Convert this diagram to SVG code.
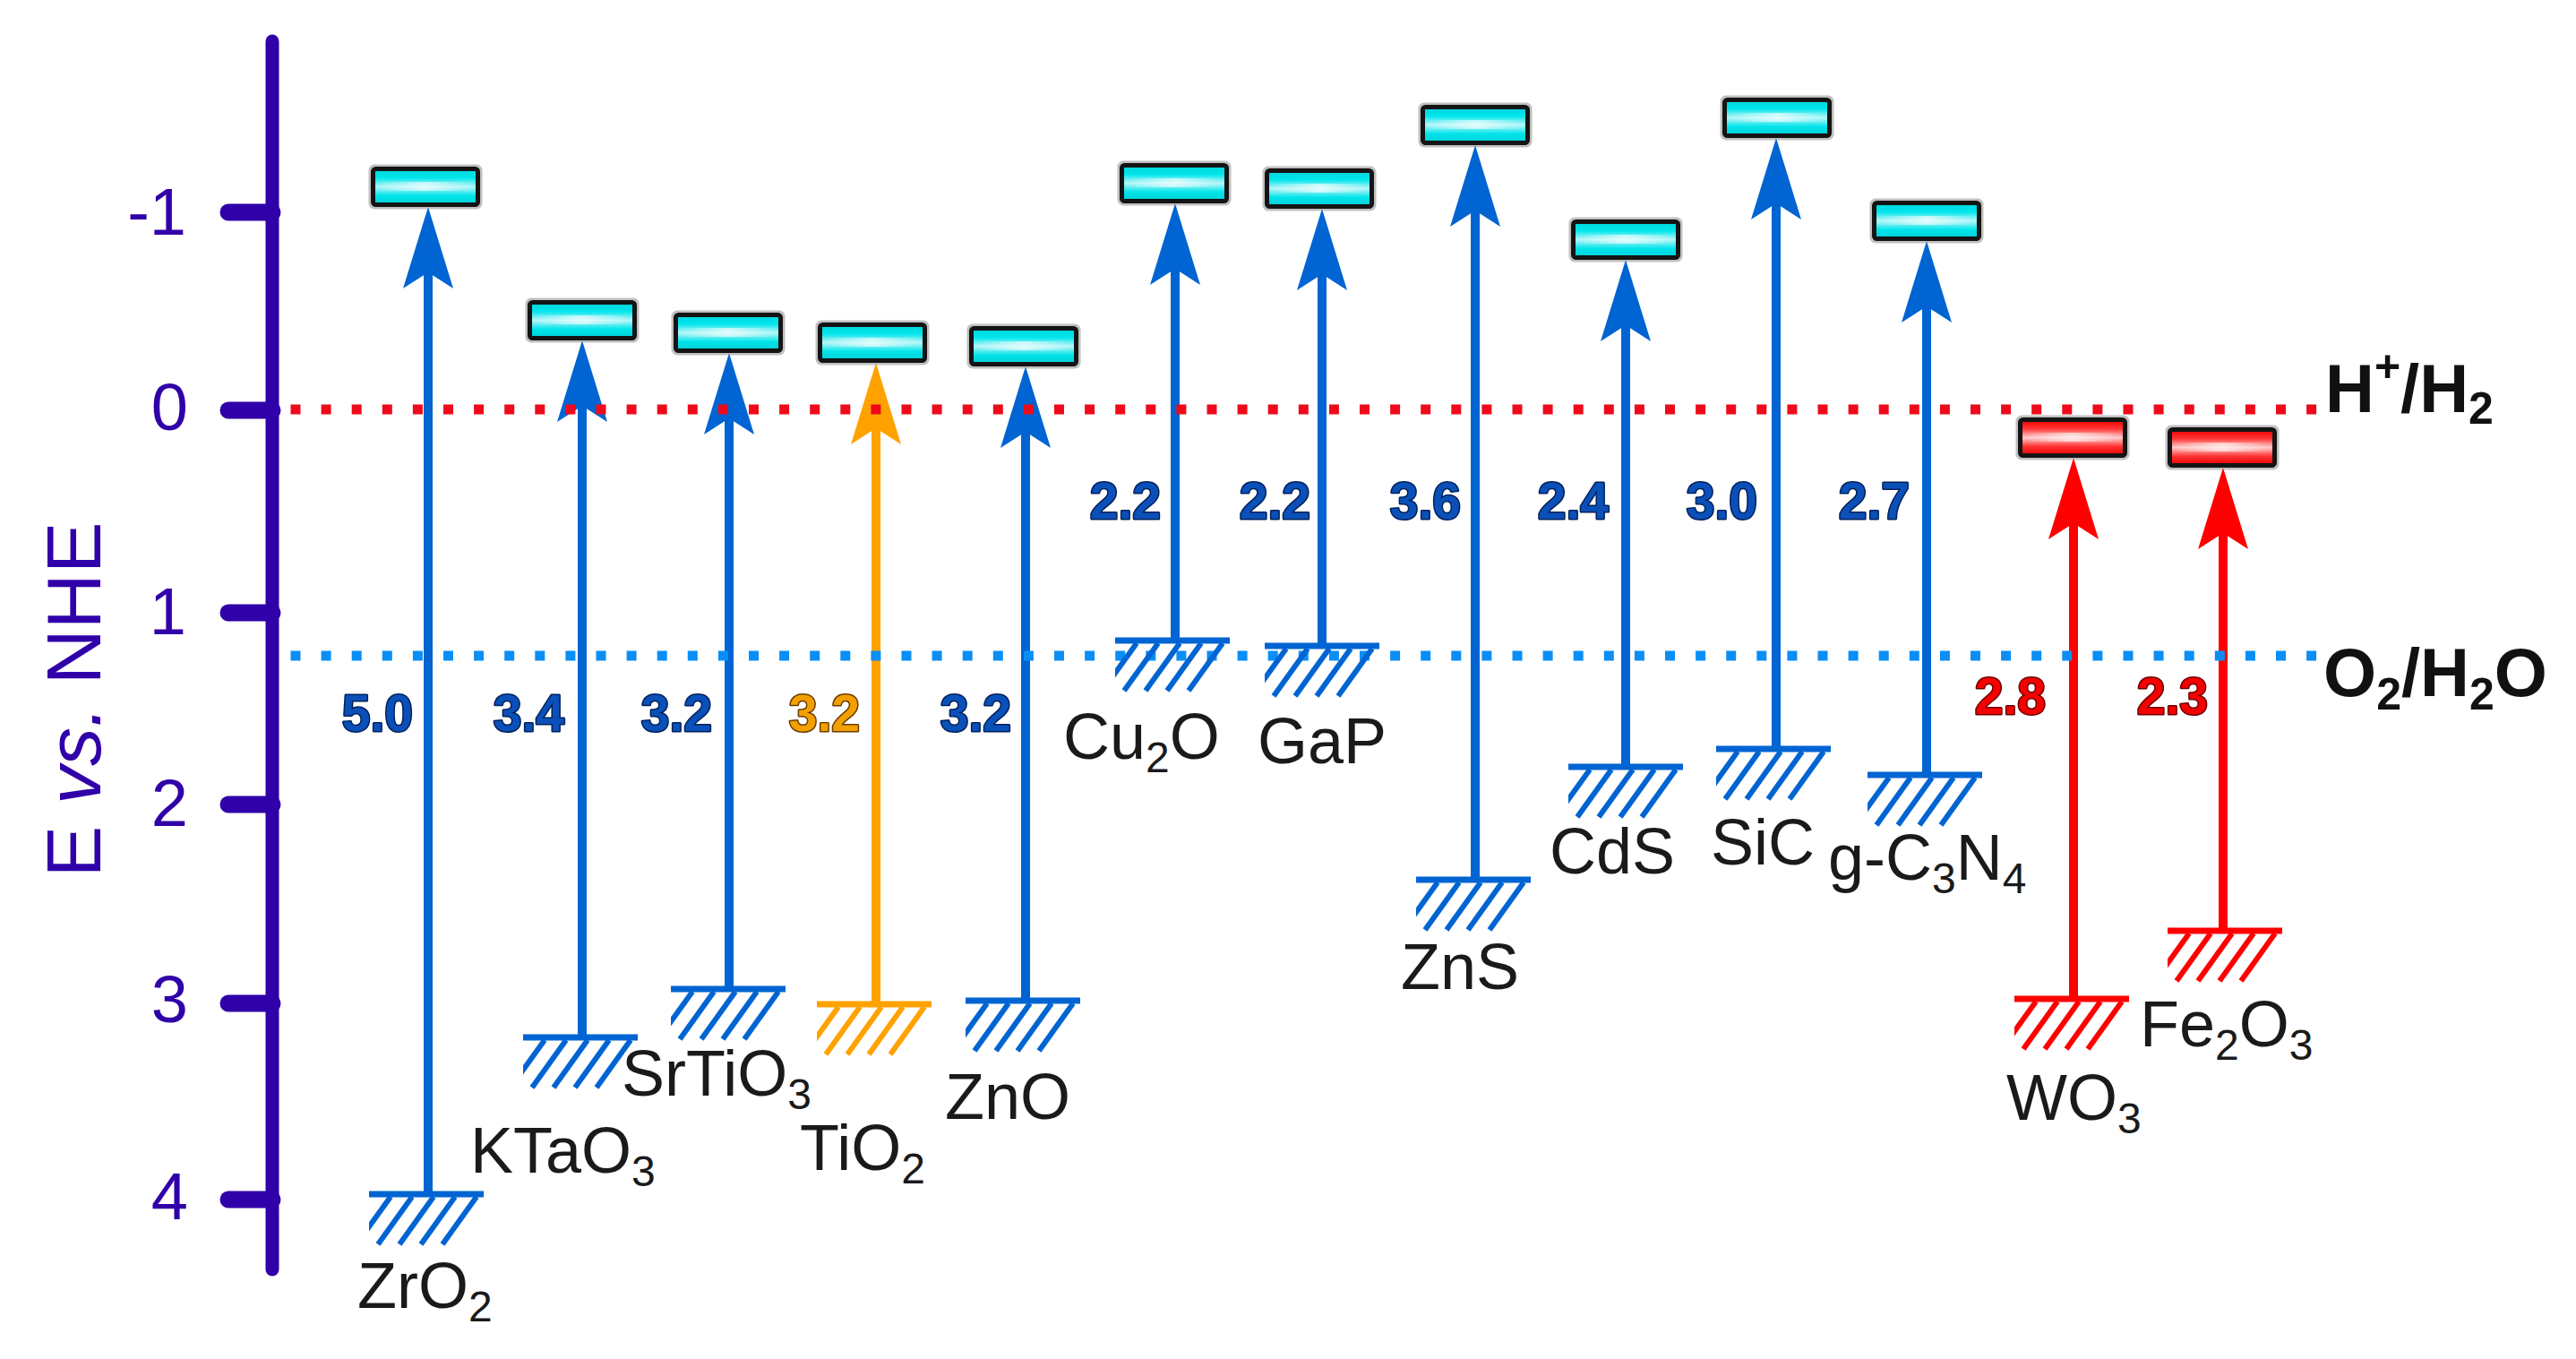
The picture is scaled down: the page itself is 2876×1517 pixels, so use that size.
<svg xmlns="http://www.w3.org/2000/svg" width="2876" height="1517" viewBox="0 0 2876 1517">
<defs>
<style>
text { font-family: "Liberation Sans", Arial, sans-serif; }
.ax { fill: #3000a8; font-size: 74px; text-anchor: end; }
.title { fill: #3000a8; font-size: 86px; text-anchor: middle; }
.mat { fill: #1a1a1a; font-size: 72px; }
.gap { font-size: 57px; font-weight: bold; text-anchor: end; stroke-width: 3; paint-order: stroke; stroke-linejoin: round; }
.gb { fill: #0a50b8; stroke: #00205a; }
.go { fill: #f2a000; stroke: #6a3c00; }
.gr { fill: #f40000; stroke: #6e0000; }
.ref { font-size: 76px; font-weight: bold; fill: #111; }
.arB { stroke: #0064d2; stroke-width: 10; marker-end: url(#ahB); }
.arO { stroke: #ffa200; stroke-width: 10; marker-end: url(#ahO); }
.arR { stroke: #ff0000; stroke-width: 10; marker-end: url(#ahR); }
.dotR { stroke: #ee0a1a; stroke-width: 11; stroke-dasharray: 11 23.1; }
.dotB { stroke: #0a8ef5; stroke-width: 11; stroke-dasharray: 11 23.1; }
</style>
<linearGradient id="cyanG" x1="0" y1="0" x2="0" y2="1">
<stop offset="0" stop-color="#00d2da"/>
<stop offset="0.25" stop-color="#00e6ec"/>
<stop offset="0.5" stop-color="#b4f6f8"/>
<stop offset="0.75" stop-color="#00e4ea"/>
<stop offset="1" stop-color="#00cdd6"/>
</linearGradient>
<linearGradient id="redG" x1="0" y1="0" x2="0" y2="1">
<stop offset="0" stop-color="#ee0000"/>
<stop offset="0.25" stop-color="#ff3434"/>
<stop offset="0.5" stop-color="#ffcaca"/>
<stop offset="0.75" stop-color="#ff3030"/>
<stop offset="1" stop-color="#e80000"/>
</linearGradient>
<linearGradient id="hl" x1="0" y1="0" x2="1" y2="0">
<stop offset="0" stop-color="#fff" stop-opacity="0"/>
<stop offset="0.5" stop-color="#fff" stop-opacity="0.65"/>
<stop offset="1" stop-color="#fff" stop-opacity="0"/>
</linearGradient>
<marker id="ahB" markerUnits="userSpaceOnUse" orient="auto" overflow="visible" markerWidth="1" markerHeight="1" refX="0" refY="0">
<path d="M73,0 L-18,-28 L0,0 L-18,28 Z" fill="#0064d2"/>
</marker>
<marker id="ahO" markerUnits="userSpaceOnUse" orient="auto" overflow="visible" markerWidth="1" markerHeight="1" refX="0" refY="0">
<path d="M73,0 L-18,-28 L0,0 L-18,28 Z" fill="#ffa200"/>
</marker>
<marker id="ahR" markerUnits="userSpaceOnUse" orient="auto" overflow="visible" markerWidth="1" markerHeight="1" refX="0" refY="0">
<path d="M73,0 L-18,-28 L0,0 L-18,28 Z" fill="#ff0000"/>
</marker>
<g id="boxC">
<rect x="-62" y="-1" width="124" height="47" rx="5" fill="none" stroke="#8c8c8c" stroke-opacity="0.55" stroke-width="3"/>
<rect x="-58.5" y="2.5" width="117" height="40" rx="3" fill="url(#cyanG)" stroke="#141414" stroke-width="5"/>
<rect x="-54" y="17" width="108" height="10" fill="url(#hl)"/>
</g>
<g id="boxR">
<rect x="-62" y="-1" width="124" height="47" rx="5" fill="none" stroke="#8c8c8c" stroke-opacity="0.55" stroke-width="3"/>
<rect x="-58.5" y="2.5" width="117" height="40" rx="3" fill="url(#redG)" stroke="#141414" stroke-width="5"/>
<rect x="-54" y="17" width="108" height="10" fill="url(#hl)"/>
</g>
<clipPath id="hclip"><rect x="-64" y="0" width="128" height="60"/></clipPath>
<g id="hatch" stroke="currentColor" fill="none">
<line x1="-64" y1="0" x2="64" y2="0" stroke-width="7"/>
<g clip-path="url(#hclip)" stroke-width="6">
<line x1="-40" y1="3" x2="-78" y2="56"/>
<line x1="-16" y1="3" x2="-54" y2="56"/>
<line x1="8" y1="3" x2="-30" y2="56"/>
<line x1="32" y1="3" x2="-6" y2="56"/>
<line x1="56" y1="3" x2="18" y2="56"/>
</g>
</g>
</defs>

<rect width="2876" height="1517" fill="#ffffff"/>

<g id="axis">
<line x1="304" y1="46" x2="304" y2="1417" stroke="#3000a8" stroke-width="15" stroke-linecap="round"/>
<g stroke="#3000a8" stroke-width="19" stroke-linecap="round">
<line x1="255" y1="237" x2="304" y2="237"/>
<line x1="255" y1="458" x2="304" y2="458"/>
<line x1="255" y1="684" x2="304" y2="684"/>
<line x1="255" y1="898" x2="304" y2="898"/>
<line x1="255" y1="1120" x2="304" y2="1120"/>
<line x1="255" y1="1339" x2="304" y2="1339"/>
</g>
<text class="ax" x="208" y="262">-1</text>
<text class="ax" x="210" y="480">0</text>
<text class="ax" x="208" y="708">1</text>
<text class="ax" x="210" y="922">2</text>
<text class="ax" x="210" y="1141">3</text>
<text class="ax" x="210" y="1361">4</text>
<text class="title" transform="translate(112 781) rotate(-90)">E <tspan font-style="italic">vs.</tspan> NHE</text>
</g>

<g id="connectors" fill="none">
<line class="arB" x1="478" y1="1333" x2="478" y2="304"/>
<line class="arB" x1="650" y1="1158" x2="650" y2="453"/>
<line class="arB" x1="814" y1="1104" x2="814" y2="467"/>
<line class="arO" x1="978" y1="1121" x2="978" y2="478"/>
<line class="arB" x1="1145" y1="1117" x2="1145" y2="482"/>
<line class="arB" x1="1312" y1="715" x2="1312" y2="300"/>
<line class="arB" x1="1476" y1="721" x2="1476" y2="306"/>
<line class="arB" x1="1647" y1="982" x2="1647" y2="235"/>
<line class="arB" x1="1815" y1="856" x2="1815" y2="363"/>
<line class="arB" x1="1983" y1="836" x2="1983" y2="227"/>
<line class="arB" x1="2151" y1="865" x2="2151" y2="342"/>
<line class="arR" x1="2315" y1="1115" x2="2315" y2="584"/>
<line class="arR" x1="2482" y1="1039" x2="2482" y2="595"/>
</g>

<g id="potentials">
<line class="dotR" x1="324.5" y1="457" x2="2588" y2="457"/>
<line class="dotB" x1="324.5" y1="732" x2="2588" y2="732"/>
<text class="ref" x="2596" y="460">H<tspan font-size="50" dy="-34">+</tspan><tspan dy="34">/H</tspan><tspan font-size="50" dy="13">2</tspan></text>
<text class="ref" x="2594" y="777">O<tspan font-size="50" dy="15">2</tspan><tspan dy="-15">/H</tspan><tspan font-size="50" dy="15">2</tspan><tspan dy="-15">O</tspan></text>
</g>

<g id="ZrO2">
<use href="#boxC" transform="translate(475 186)"/>
<use href="#hatch" transform="translate(476 1333)" color="#0064d2"/>
<text class="gap gb" x="461" y="816">5.0</text>
<text class="mat" x="399" y="1460">ZrO<tspan font-size="48" dy="15">2</tspan></text>
</g>
<g id="KTaO3">
<use href="#boxC" transform="translate(650 335)"/>
<use href="#hatch" transform="translate(648 1158)" color="#0064d2"/>
<text class="gap gb" x="630" y="816">3.4</text>
<text class="mat" x="525" y="1309">KTaO<tspan font-size="48" dy="15">3</tspan></text>
</g>
<g id="SrTiO3">
<use href="#boxC" transform="translate(813 349)"/>
<use href="#hatch" transform="translate(813 1104)" color="#0064d2"/>
<text class="gap gb" x="795" y="816">3.2</text>
<text class="mat" x="694" y="1223">SrTiO<tspan font-size="48" dy="15">3</tspan></text>
</g>
<g id="TiO2">
<use href="#boxC" transform="translate(974 360)"/>
<use href="#hatch" transform="translate(976 1121)" color="#ffa200"/>
<text class="gap go" x="960" y="816">3.2</text>
<text class="mat" x="893" y="1306">TiO<tspan font-size="48" dy="15">2</tspan></text>
</g>
<g id="ZnO">
<use href="#boxC" transform="translate(1143 364)"/>
<use href="#hatch" transform="translate(1142 1117)" color="#0064d2"/>
<text class="gap gb" x="1129" y="816">3.2</text>
<text class="mat" x="1055" y="1249">ZnO</text>
</g>
<g id="Cu2O">
<use href="#boxC" transform="translate(1311 182)"/>
<use href="#hatch" transform="translate(1309 715)" color="#0064d2"/>
<text class="gap gb" x="1296" y="579">2.2</text>
<text class="mat" x="1187" y="847">Cu<tspan font-size="48" dy="15">2</tspan><tspan dy="-15">O</tspan></text>
</g>
<g id="GaP">
<use href="#boxC" transform="translate(1473 188)"/>
<use href="#hatch" transform="translate(1476 721)" color="#0064d2"/>
<text class="gap gb" x="1463" y="579">2.2</text>
<text class="mat" x="1404" y="852">GaP</text>
</g>
<g id="ZnS">
<use href="#boxC" transform="translate(1647 117)"/>
<use href="#hatch" transform="translate(1645 982)" color="#0064d2"/>
<text class="gap gb" x="1631" y="579">3.6</text>
<text class="mat" x="1564" y="1104">ZnS</text>
</g>
<g id="CdS">
<use href="#boxC" transform="translate(1815 245)"/>
<use href="#hatch" transform="translate(1815 856)" color="#0064d2"/>
<text class="gap gb" x="1796" y="579">2.4</text>
<text class="mat" x="1730" y="975">CdS</text>
</g>
<g id="SiC">
<use href="#boxC" transform="translate(1984 109)"/>
<use href="#hatch" transform="translate(1980 836)" color="#0064d2"/>
<text class="gap gb" x="1962" y="579">3.0</text>
<text class="mat" x="1910" y="965">SiC</text>
</g>
<g id="g-C3N4">
<use href="#boxC" transform="translate(2151 224)"/>
<use href="#hatch" transform="translate(2149 865)" color="#0064d2"/>
<text class="gap gb" x="2132" y="579">2.7</text>
<text class="mat" x="2041" y="982">g-C<tspan font-size="48" dy="15">3</tspan><tspan dy="-15">N</tspan><tspan font-size="48" dy="15">4</tspan></text>
</g>
<g id="WO3">
<use href="#boxR" transform="translate(2314 466)"/>
<use href="#hatch" transform="translate(2313 1115)" color="#ff0000"/>
<text class="gap gr" x="2284" y="797">2.8</text>
<text class="mat" x="2240" y="1250">WO<tspan font-size="48" dy="15">3</tspan></text>
</g>
<g id="Fe2O3">
<use href="#boxR" transform="translate(2481 477)"/>
<use href="#hatch" transform="translate(2484 1039)" color="#ff0000"/>
<text class="gap gr" x="2465" y="797">2.3</text>
<text class="mat" x="2389" y="1168">Fe<tspan font-size="48" dy="15">2</tspan><tspan dy="-15">O</tspan><tspan font-size="48" dy="15">3</tspan></text>
</g>
</svg>
